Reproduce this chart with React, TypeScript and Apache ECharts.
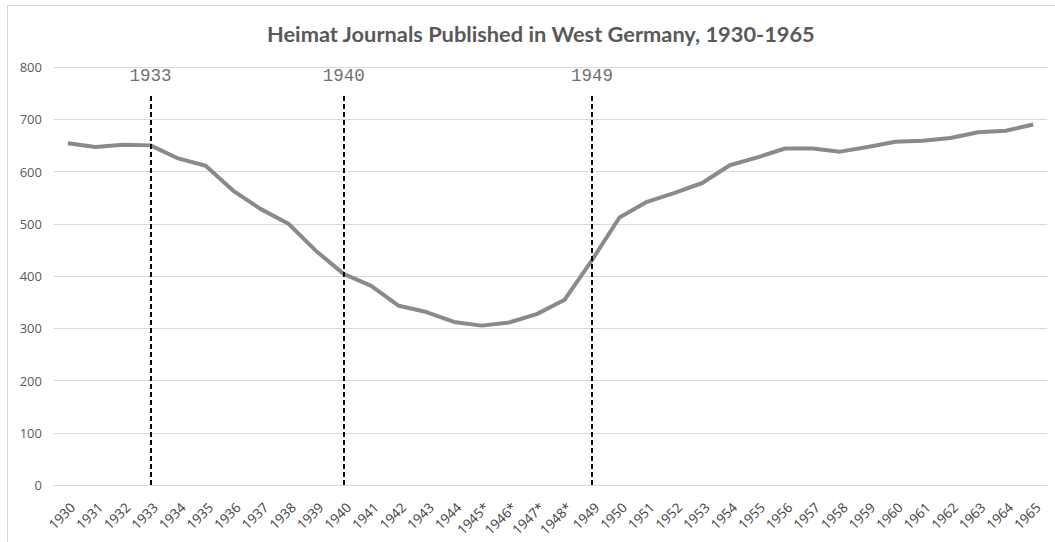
import React, { useEffect, useRef } from "react";
import * as echarts from "echarts";

const years = [
  "1930", "1931", "1932", "1933", "1934", "1935", "1936", "1937", "1938", "1939",
  "1940", "1941", "1942", "1943", "1944", "1945*", "1946*", "1947*", "1948*", "1949",
  "1950", "1951", "1952", "1953", "1954", "1955", "1956", "1957", "1958", "1959",
  "1960", "1961", "1962", "1963", "1964", "1965",
];
const journals = [
  654, 647, 651, 650, 625, 611, 563, 528, 500, 448,
  404, 381, 343, 331, 312, 305, 311, 327, 354, 430,
  512, 542, 559, 578, 612, 627, 644, 644, 638, 647,
  657, 659, 664, 675, 678, 690,
];
const markerYears = ["1933", "1940", "1949"];
const markerTop = 750;
const yTicks = { min: 0, max: 800, interval: 100 };
const title = "Heimat Journals Published in West Germany, 1930-1965";

export default function App() {
  const ref = useRef<HTMLDivElement>(null);
  useEffect(() => {
    if (!ref.current) return;
    const chart = echarts.init(ref.current, null, { renderer: "svg" });
    chart.setOption({
      animation: false,
      backgroundColor: "#ffffff",
      title: {
        text: title,
        left: 262,
        top: 17,
        textStyle: {
          fontFamily: "Lato",
          fontWeight: "bold",
          fontSize: 21.8,
          color: "#595959",
        },
      },
      graphic: [
        {
          type: "rect",
          shape: { x: 7.5, y: 5.5, width: 1100, height: 600 },
          style: { fill: "none", stroke: "#d9d9d9", lineWidth: 1 },
          silent: true,
        },
      ],
      grid: { left: 54, right: 8, top: 67, bottom: 57, containLabel: false },
      xAxis: {
        type: "category",
        data: years,
        boundaryGap: true,
        axisLine: { show: true, lineStyle: { color: "#d9d9d9", width: 1 } },
        axisTick: { show: false },
        axisLabel: {
          rotate: 45,
          interval: 0,
          color: "#404040",
          fontFamily: "Open Sans",
          fontSize: 13.5,
          verticalAlign: "top",
          lineHeight: 14,
          margin: 15,
        },
        splitLine: { show: false },
      },
      yAxis: {
        type: "value",
        min: yTicks.min,
        max: yTicks.max,
        interval: yTicks.interval,
        axisLine: { show: false },
        axisTick: { show: false },
        axisLabel: {
          color: "#595959",
          fontFamily: "Open Sans",
          fontSize: 13,
          margin: 12,
        },
        splitLine: { lineStyle: { color: "#d9d9d9", width: 1 } },
      },
      series: [
        {
          type: "line",
          data: journals,
          symbol: "none",
          smooth: false,
          lineStyle: { color: "#8a8a8a", width: 4 },
          markLine: {
            silent: true,
            symbol: "none",
            lineStyle: { color: "#000000", type: [5, 3], width: 2 },
            label: {
              show: true,
              position: "end",
              distance: 8,
              fontFamily: "Liberation Mono",
              fontSize: 17.5,
              color: "#707070",
            },
            data: markerYears.map((y) => [
              { coord: [y, 0] },
              { coord: [y, markerTop], name: y, label: { formatter: y } },
            ]),
          },
        },
      ],
    });
    return () => chart.dispose();
  }, []);
  return (
    <div
      ref={ref}
      style={{ position: "fixed", left: 0, top: 0, width: 1055, height: 542 }}
    />
  );
}
